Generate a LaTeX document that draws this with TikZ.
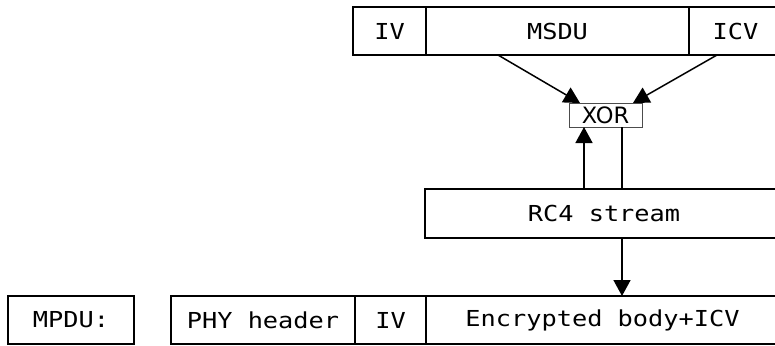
\documentclass[tikz,border=0pt]{standalone}
\usepackage{fontspec}
\setmainfont{DejaVu Sans Mono}[FakeStretch=1.15]
\newfontfamily\opfont{DejaVu Sans}
\usetikzlibrary{positioning,arrows.meta}

\begin{document}
\begin{tikzpicture}[x=1pt,y=-1pt,node distance=0pt]

        \tikzstyle{field} = [rectangle, anchor=north west, outer sep=0pt, inner sep=0pt, minimum height=48pt, text centered, draw=black, line width=1.5pt, font=\fontsize{22}{24}\selectfont]
        \tikzstyle{op} = [rectangle, anchor=north west, outer sep=0pt, inner sep=0pt, minimum width=73pt, minimum height=24pt, text centered, draw=black!70, line width=0.8pt, font=\opfont\fontsize{22.5}{24}\selectfont]
        \tikzstyle{arrow} = [line width=1.5pt,-{Triangle[length=16pt,width=17pt]}]
        \useasboundingbox (0,0) rectangle (775,345);

        % Plaintext frame
        \node (iv) [field, minimum width=73pt] at (353,7) {IV};
        \node (msdu) [field, minimum width=263pt, right=of iv] {MSDU};
        \node (icv) [field, minimum width=93pt, right=of msdu] {ICV};

        \node (xor) [op] at (569,103) {XOR};
        \node (rc4) [field, minimum width=358pt, minimum height=49pt] at (425,189) {RC4 stream};

        % Encrypted frame
        \node (mpdu) [field, minimum width=126pt] at (8,296) {MPDU:};
        \node (phy) [field, minimum width=184pt] at (171,296) {PHY header};
        \node (iv2) [field, minimum width=71pt, right=of phy] {IV};
        \node (body) [field, minimum width=353pt, right=of iv2] {Encrypted body+ICV};

        \coordinate (keyin) at ([xshift=-21.5pt]xor.south);
        \coordinate (xorout) at ([xshift=16.5pt]xor.south);

        % Arrows
        \draw [arrow]([xshift=-59.5pt]msdu.south) -- ([xshift=11pt]xor.north west);
        \draw [arrow]([xshift=-18.5pt]icv.south) -- ([xshift=-9pt]xor.north east);
        \draw [arrow](keyin |- rc4.north) -- (keyin);
        \draw [line width=1.5pt](xorout) -- (xorout |- rc4.north);
        \draw [arrow](xorout |- rc4.south) -- (xorout |- body.north);

    \end{tikzpicture}
\end{document}
